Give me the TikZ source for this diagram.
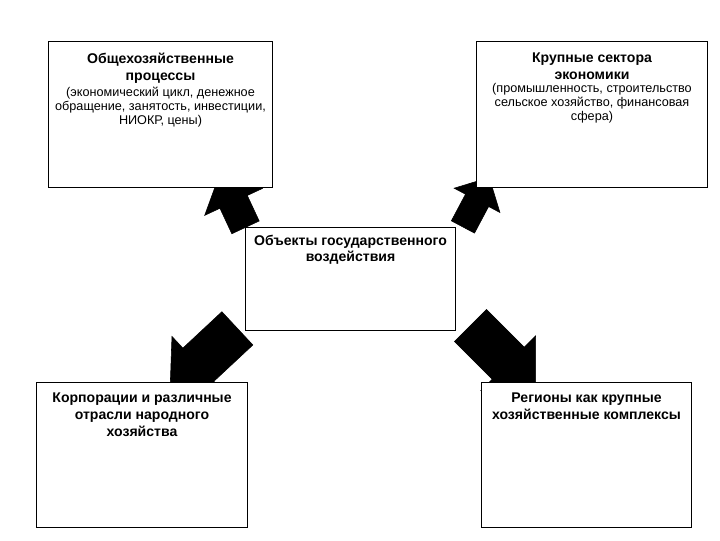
\documentclass[tikz,border=0pt]{standalone}
\usepackage{fontspec}
\setmainfont{Liberation Sans}
\usepackage{tikz}
\usetikzlibrary{positioning, shapes.arrows}

\begin{document}
\begin{tikzpicture}[x=0.025cm, y=-0.025cm,
    box/.style={draw, fill=white, inner sep=0pt, line width=0.7pt},
    head/.style={font=\bfseries\fontsize{10}{12}\selectfont, align=center, inner sep=0pt},
    body/.style={font=\fontsize{9}{10}\selectfont, align=center, inner sep=0pt},
    blockarrow/.style={single arrow, fill=black, draw=black, inner xsep=0pt}]
    \useasboundingbox (0,0) rectangle (720,540);
    % block arrows first, the boxes cover their ends
    \node[blockarrow, minimum height=1.5cm, inner ysep=0.37cm, single arrow head extend=0.42cm, rotate=115] (arrtl) at (236,207) {};
    \node[blockarrow, minimum height=1.4cm, inner ysep=0.32cm, single arrow head extend=0.32cm, rotate=62] (arrtr) at (473,208) {};
    \node[blockarrow, minimum height=2.3cm, inner ysep=0.56cm, single arrow head extend=0.4cm, rotate=223] (arrbl) at (212,352) {};
    \node[blockarrow, minimum height=2.3cm, inner ysep=0.56cm, single arrow head extend=0.4cm, rotate=-45] (arrbr) at (495,350) {};
    % boxes
    \node[box, minimum width=5.575cm, minimum height=3.625cm] (procs) at (160.5,114.5) {};
    \node[box, minimum width=5.75cm, minimum height=3.625cm] (sectors) at (592,114.5) {};
    \node[box, minimum width=5.225cm, minimum height=2.575cm] (objects) at (350.5,278.5) {};
    \node[box, minimum width=5.25cm, minimum height=3.6cm] (corps) at (142,455) {};
    \node[box, minimum width=5.225cm, minimum height=3.6cm] (regions) at (586.5,455) {};
    % texts
    \node[head, below=0.28cm of procs.north] (procstitle) {Общехозяйственные\\процессы};
    \node[body, below=2pt of procstitle] (procsbody) {(экономический цикл, денежное\\обращение, занятость, инвестиции,\\НИОКР, цены)};
    \node[head, below=0.28cm of sectors.north] (sectorstitle) {Крупные сектора\\экономики};
    \node[body, below=2pt of sectorstitle] (sectorsbody) {(промышленность, строительство\\сельское хозяйство, финансовая\\сфера)};
    \node[head, below=0.2cm of objects.north] (objectstitle) {Объекты государственного\\воздействия};
    \node[head, below=0.25cm of corps.north] (corpstitle) {Корпорации и различные\\отрасли народного\\хозяйства};
    \node[head, below=0.25cm of regions.north] (regionstitle) {Регионы как крупные\\хозяйственные комплексы};
\end{tikzpicture}
\end{document}
